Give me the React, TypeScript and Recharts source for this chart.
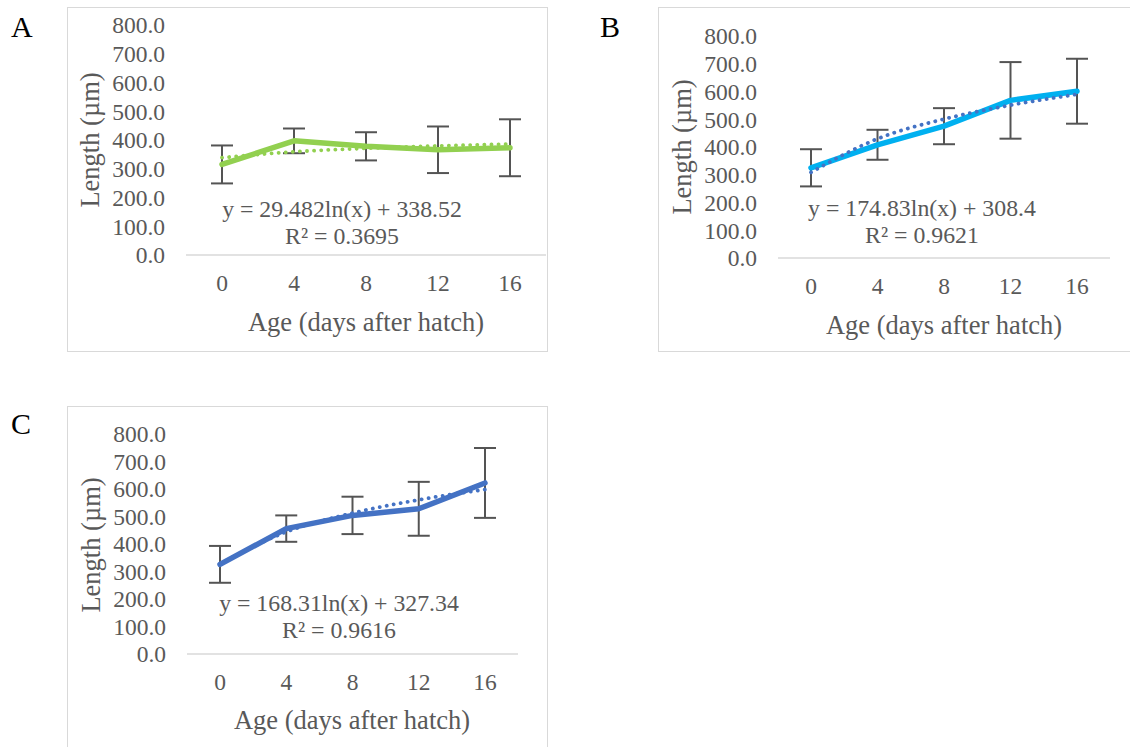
import React from 'react';
import { LineChart, Line, XAxis, YAxis, ErrorBar } from 'recharts';

// Age in days after hatch (category axis)
const days = ['0', '4', '8', '12', '16'];
const yTicks = [0, 100, 200, 300, 400, 500, 600, 700, 800];

// Mean length (µm) and standard deviation per age
const lengthA = [315, 397, 378, 366, 373];
const sdA = [66, 43, 49, 81, 99];
const lengthB = [325, 408, 475, 568, 601];
const sdB = [67, 54, 65, 138, 117];
const lengthC = [326, 456, 504, 528, 622];
const sdC = [67, 48, 68, 98, 127];

// Logarithmic trendline coefficients: y = slope * ln(x) + intercept, x = 1..5
const trendA = { slope: 29.482, intercept: 338.52, r2: '0.3695' };
const trendB = { slope: 174.83, intercept: 308.4, r2: '0.9621' };
const trendC = { slope: 168.31, intercept: 327.34, r2: '0.9616' };

const FONT = "'Liberation Serif', 'Times New Roman', serif";
const TEXT = '#595959';

type Trend = { slope: number; intercept: number; r2: string };

function buildRows(values: number[], sd: number[], trend: Trend) {
  return days.map((d, i) => ({
    day: d,
    length: values[i],
    sd: sd[i],
    trend: trend.slope * Math.log(i + 1) + trend.intercept,
  }));
}

type PanelProps = {
  letter: string;
  letterPos: { left: number; top: number };
  frame: { left: number; top: number; width: number; height: number };
  margin: { top: number; right: number };
  yWidth: number;
  xHeight: number;
  pad: number;
  values: number[];
  sd: number[];
  trend: Trend;
  color: string;
  trendColor: string;
  xTitle: { x: number; y: number };
  yTitle: { x: number; y: number };
  eq: { x: number; y: number };
};

function Panel(p: PanelProps) {
  const rows = buildRows(p.values, p.sd, p.trend);
  const centered: React.CSSProperties = {
    position: 'absolute',
    transform: 'translate(-50%, -50%)',
    whiteSpace: 'nowrap',
    fontFamily: FONT,
    color: TEXT,
    lineHeight: 1,
  };
  return (
    <>
      <div
        style={{
          position: 'absolute',
          left: p.frame.left,
          top: p.frame.top,
          width: p.frame.width - 2,
          height: p.frame.height - 2,
          border: '1px solid #D9D9D9',
          background: '#fff',
        }}
      />
      <div style={{ position: 'absolute', left: p.frame.left, top: p.frame.top }}>
        <LineChart
          width={p.frame.width}
          height={p.frame.height}
          data={rows}
          margin={{ top: p.margin.top, right: p.margin.right, left: 0, bottom: 0 }}
        >
          <XAxis
            dataKey="day"
            height={p.xHeight}
            padding={{ left: p.pad, right: p.pad }}
            axisLine={{ stroke: '#D9D9D9', strokeWidth: 1.5 }}
            tickLine={false}
            tickSize={0}
            tickMargin={19}
            tick={{ fill: TEXT, fontSize: 23.5, fontFamily: FONT }}
          />
          <YAxis
            width={p.yWidth}
            domain={[0, 800]}
            ticks={yTicks}
            interval={0}
            axisLine={false}
            tickLine={false}
            tickSize={0}
            tickMargin={21}
            tickFormatter={(v: number) => v.toFixed(1)}
            tick={{ fill: TEXT, fontSize: 23.5, fontFamily: FONT }}
          />
          {/* error bars sit beneath the series line */}
          <Line
            dataKey="length"
            stroke="none"
            dot={false}
            activeDot={false}
            isAnimationActive={false}
          >
            <ErrorBar dataKey="sd" width={11} strokeWidth={2} stroke="#545454" direction="y" />
          </Line>
          <Line
            dataKey="length"
            stroke={p.color}
            strokeWidth={5.5}
            strokeLinecap="round"
            strokeLinejoin="round"
            dot={false}
            activeDot={false}
            isAnimationActive={false}
          />
          <Line
            dataKey="trend"
            type="monotone"
            stroke={p.trendColor}
            strokeWidth={3.8}
            strokeLinecap="round"
            strokeDasharray="0.1 7"
            dot={false}
            activeDot={false}
            isAnimationActive={false}
          />
        </LineChart>
      </div>
      <div style={{ ...centered, left: p.xTitle.x, top: p.xTitle.y, fontSize: 26.5 }}>
        Age (days after hatch)
      </div>
      <div
        style={{
          ...centered,
          left: p.yTitle.x,
          top: p.yTitle.y,
          fontSize: 26.5,
          transform: 'translate(-50%, -50%) rotate(-90deg)',
        }}
      >
        Length (µm)
      </div>
      <div style={{ ...centered, left: p.eq.x, top: p.eq.y, fontSize: 23.8 }}>
        y = {String(p.trend.slope)}ln(x) + {String(p.trend.intercept)}
      </div>
      <div style={{ ...centered, left: p.eq.x, top: p.eq.y + 27, fontSize: 23.8 }}>
        R² = {p.trend.r2}
      </div>
      <div
        style={{
          position: 'absolute',
          left: p.letterPos.left,
          top: p.letterPos.top,
          fontFamily: FONT,
          fontSize: 30,
          lineHeight: 1,
          color: '#000',
        }}
      >
        {p.letter}
      </div>
    </>
  );
}

export default function App() {
  return (
    <div
      style={{
        position: 'absolute',
        left: 0,
        top: 0,
        width: 1130,
        height: 747,
        overflow: 'hidden',
        background: '#fff',
      }}
    >
      <Panel
        letter="A"
        letterPos={{ left: 11, top: 12 }}
        frame={{ left: 67, top: 7, width: 481, height: 345 }}
        margin={{ top: 18, right: 2 }}
        yWidth={119}
        xHeight={97}
        pad={36}
        values={lengthA}
        sd={sdA}
        trend={trendA}
        color="#92D050"
        trendColor="#92D050"
        xTitle={{ x: 366, y: 322 }}
        yTitle={{ x: 90, y: 140 }}
        eq={{ x: 342, y: 210 }}
      />
      <Panel
        letter="B"
        letterPos={{ left: 600, top: 12 }}
        frame={{ left: 658, top: 7, width: 473, height: 345 }}
        margin={{ top: 29, right: 21 }}
        yWidth={120}
        xHeight={94}
        pad={33}
        values={lengthB}
        sd={sdB}
        trend={trendB}
        color="#00B0F0"
        trendColor="#4472C4"
        xTitle={{ x: 944, y: 325 }}
        yTitle={{ x: 682, y: 147 }}
        eq={{ x: 922, y: 209 }}
      />
      <Panel
        letter="C"
        letterPos={{ left: 11, top: 409 }}
        frame={{ left: 67, top: 406, width: 481, height: 345 }}
        margin={{ top: 28, right: 30 }}
        yWidth={120}
        xHeight={97}
        pad={33}
        values={lengthC}
        sd={sdC}
        trend={trendC}
        color="#4472C4"
        trendColor="#4472C4"
        xTitle={{ x: 352, y: 720 }}
        yTitle={{ x: 91, y: 545 }}
        eq={{ x: 339, y: 604 }}
      />
    </div>
  );
}
